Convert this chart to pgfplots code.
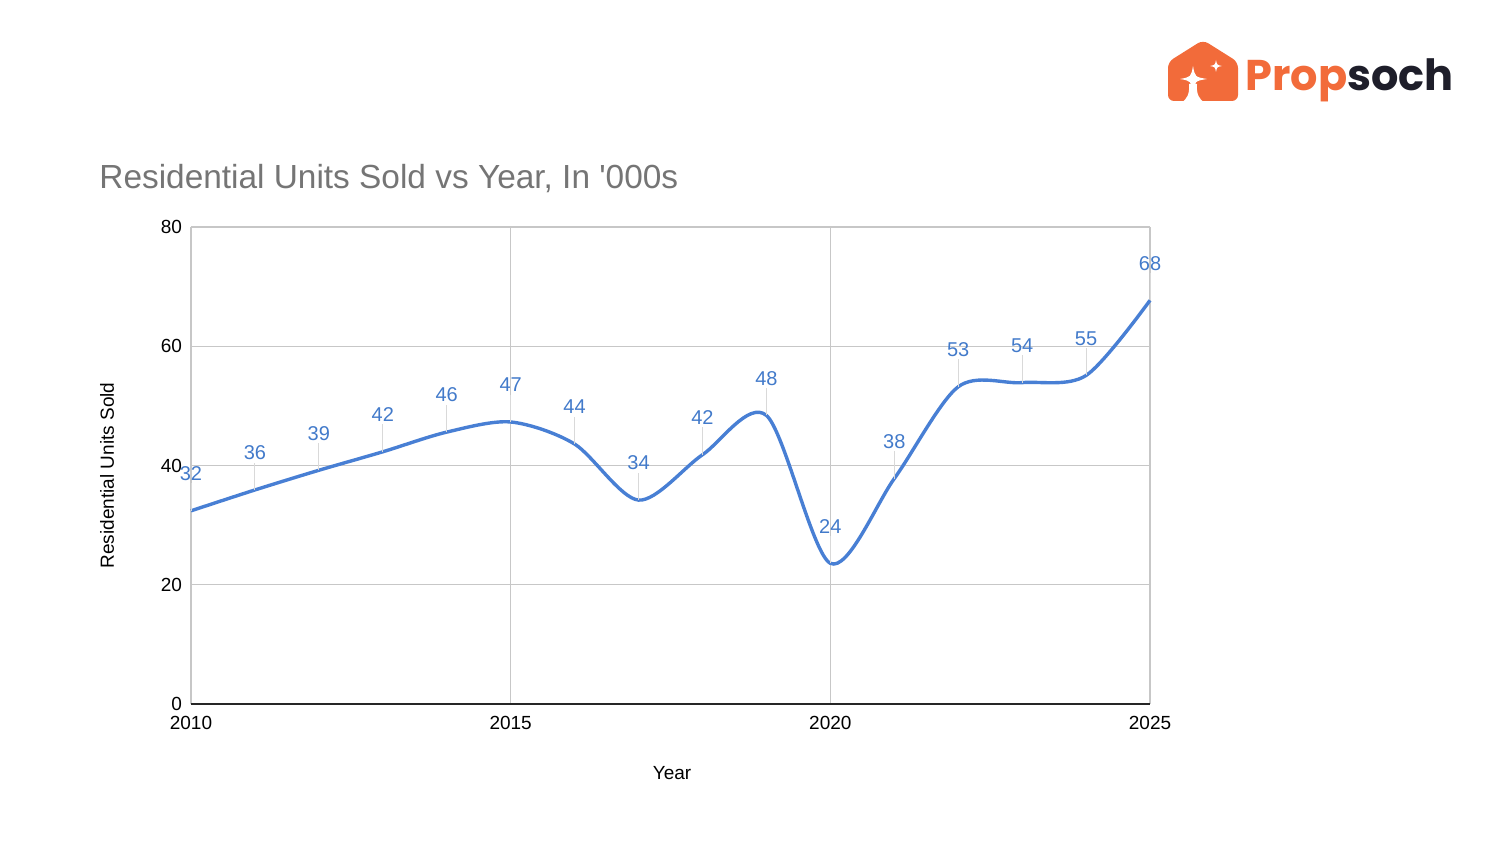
\documentclass[border=0pt]{standalone}
\usepackage{fontspec}
\setmainfont{Liberation Sans}
\newfontfamily\logofont{Poppins}
\usepackage{pgfplots}
\pgfplotsset{compat=1.18}
\definecolor{lineblue}{RGB}{72,127,212}
\definecolor{labelblue}{RGB}{66,122,202}
\definecolor{titlegray}{RGB}{117,117,117}
\definecolor{logoorange}{RGB}{242,107,58}
\definecolor{logodark}{RGB}{30,30,42}
\pgfplotstableread{
year units
2010 32.4
2011 35.9
2012 39.2
2013 42.3
2014 45.6
2015 47.3
2016 43.6
2017 34.2
2018 41.8
2019 48.4
2020 23.6
2021 37.8
2022 53.2
2023 53.9
2024 55.1
2025 67.7
}\unitsdata
\begin{document}
\begin{tikzpicture}
\begin{axis}[
  at={(95.5pt,70pt)}, anchor=south west,
  scale only axis, width=479.5pt, height=238.5pt,
  xmin=2010, xmax=2025, ymin=0, ymax=80,
  xtick={2010,2015,2020,2025}, ytick={0,20,40,60,80},
  grid=major, grid style={black!22, line width=0.6pt},
  axis line style={draw=none}, tick style={draw=none},
  /pgf/number format/1000 sep={},
  /pgf/number format/assume math mode=true,
  tick label style={font=\fontsize{9.5}{11}\selectfont, black},
  xticklabel style={yshift=-2.5pt},
  yticklabel style={xshift=-1pt},
  extra y ticks={0}, extra y tick labels={},
  extra y tick style={grid style={black!85, line width=1.1pt}},
  xlabel={Year}, ylabel={Residential Units Sold},
  label style={font=\fontsize{9.5}{11}\selectfont},
  xlabel style={at={([yshift=-34.5pt,xshift=0.8pt]axis description cs:0.5,0)}, anchor=center},
  ylabel style={at={([xshift=-42pt,yshift=-5pt]axis description cs:0,0.5)}, anchor=center},
  clip=false,
]
\addplot[lineblue, line width=1.7pt, smooth, mark=none,
  error bars/.cd, y dir=plus, y fixed=4.6, error mark=none,
  error bar style={draw=black!15, line width=0.5pt},
  ] table[x=year,y=units] {\unitsdata};
\addplot[draw=none, mark=none, forget plot,
  nodes near coords={\pgfmathprintnumber[fixed,precision=0]{\pgfplotspointmeta}},
  every node near coord/.append style={font=\fontsize{10}{12}\selectfont, text=labelblue, anchor=center, yshift=18.5pt, inner sep=0pt},
  ] table[x=year,y=units] {\unitsdata};
\end{axis}
% title
\node[anchor=base west, inner sep=0pt, text=titlegray, font=\fontsize{16.7}{19}\selectfont] at (49.5pt,327.5pt) {Residential Units Sold vs Year, In \textquotesingle 000s};
% logo
\begin{scope}[x=0.5pt,y=-0.5pt,yshift=422pt]
  \fill[logoorange, rounded corners=3pt] (1203,40) -- (1238,62) -- (1238,101) -- (1168,101) -- (1168,62) -- cycle;
  \fill[white] (1193,66) .. controls (1195,77) .. (1207,79) .. controls (1195,81) .. (1193,92) .. controls (1191,81) .. (1180,79) .. controls (1191,77) .. cycle;
  \fill[white] (1189,84) .. controls (1190,95) and (1186,99) .. (1183,101.5) -- (1203,101.5) .. controls (1200,99) and (1196,95) .. (1197,84) -- cycle;
  \fill[white] (1216,60) .. controls (1217,65) .. (1222,66) .. controls (1217,67) .. (1216,72) .. controls (1215,67) .. (1210,66) .. controls (1215,65) .. cycle;
  \node[anchor=base west, inner sep=0pt, font=\logofont\bfseries\fontsize{21.5}{24}\selectfont] at (1245,91) {\textcolor{logoorange}{Prop}\textcolor{logodark}{soch}};
\end{scope}
\pgfresetboundingbox
\useasboundingbox (0,0) rectangle (750pt,422pt);
\end{tikzpicture}
\end{document}
